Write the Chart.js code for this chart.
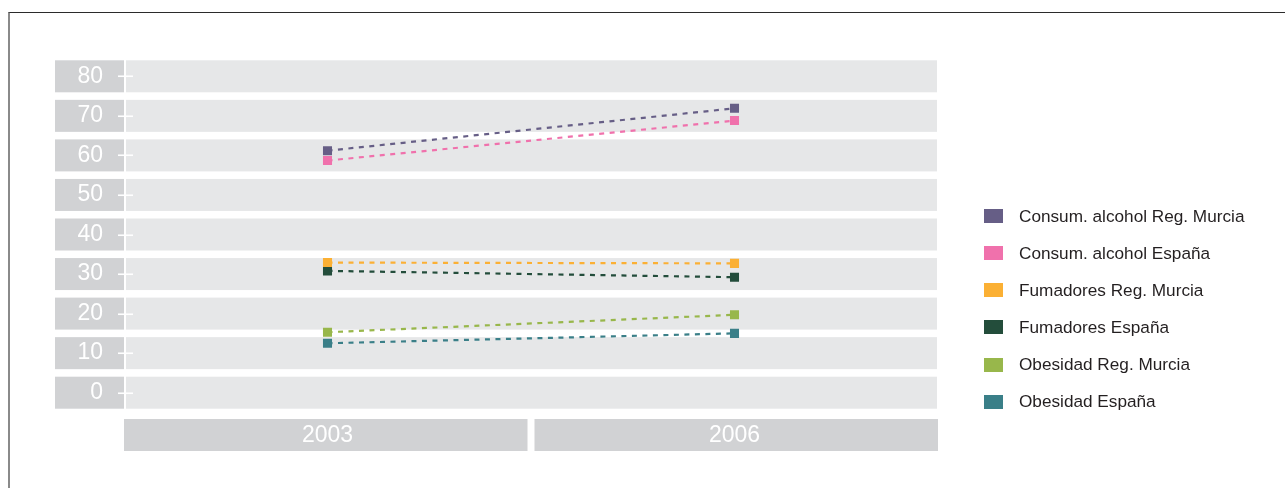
<!DOCTYPE html>
<html>
<head>
<meta charset="utf-8">
<script src="https://cdn.jsdelivr.net/npm/chart.js@4"></script>
<style>
  body { margin: 0; background: #fff; font-family: "Liberation Sans", Arial, sans-serif; }
  #wrap { position: relative; width: 1285px; height: 488px; overflow: hidden; }
  #frame { position: absolute; left: 8px; top: 12px; width: 1280px; height: 480px;
           border-top: 1.5px solid #2b2b2b; border-left: 2px solid #8a8a8a; }
  canvas { position: absolute; left: 0; top: 0; }
  #legend { position: absolute; left: 984px; top: 197.5px; }
  .item { height: 37.15px; display: flex; align-items: center; font-size: 17.2px; color: #231f20; }
  .sw { width: 19px; height: 14px; margin-right: 16px; }
</style>
</head>
<body>
<div id="wrap">
  <div id="frame"></div>
  <canvas id="chart" width="1285" height="488"></canvas>
  <div id="legend"></div>
</div>
<script>
let years = ["2003", "2006"];
let seriesNames = [
    "Consum. alcohol Reg. Murcia",
    "Consum. alcohol España",
    "Fumadores Reg. Murcia",
    "Fumadores España",
    "Obesidad Reg. Murcia",
    "Obesidad España"
];
let alcoholMurcia = [61.2, 71.9];
let alcoholEspana = [58.7, 68.8];
let fumadoresMurcia = [32.9, 32.7];
let fumadoresEspana = [30.8, 29.2];
let obesidadMurcia = [15.3, 19.7];
let obesidadEspana = [12.5, 15.0];
let seriesColors = ["#665e86", "#f071ac", "#fbb034", "#234d3b", "#98b74b", "#3a7f88"];

let allValues = [alcoholMurcia, alcoholEspana, fumadoresMurcia, fumadoresEspana, obesidadMurcia, obesidadEspana];

// fondo: bandas grises por cada tick y cajas de las categorías
const bandPlugin = {
    id: 'bands',
    beforeDraw(chart) {
        let ctx = chart.ctx;
        let area = chart.chartArea;
        let yScale = chart.scales.y;
        ctx.save();
        yScale.ticks.forEach(function(t) {
            let py = yScale.getPixelForValue(t.value);
            ctx.fillStyle = '#e6e7e8';
            ctx.fillRect(area.left + 2, py - 16, area.right - area.left - 3, 32);
            ctx.fillStyle = '#d1d2d4';
            ctx.fillRect(55, py - 16, area.left - 55, 32);
        });
        let n = years.length;
        let w = (area.right - area.left) / n;
        for (let i = 0; i < n; i++) {
            let x0 = area.left + i * w + (i > 0 ? 3.5 : 0);
            let x1 = area.left + (i + 1) * w - (i < n - 1 ? 3.5 : 0);
            ctx.fillStyle = '#d1d2d4';
            ctx.fillRect(x0, 419, x1 - x0, 32);
        }
        // marcas de tick blancas
        ctx.strokeStyle = '#ffffff';
        ctx.lineWidth = 1.6;
        yScale.ticks.forEach(function(t) {
            let py = Math.round(yScale.getPixelForValue(t.value)) + 0.25;
            ctx.beginPath();
            ctx.moveTo(area.left - 6, py);
            ctx.lineTo(area.left + 9, py);
            ctx.stroke();
        });
        ctx.restore();
    }
};

let datasets = allValues.map(function(vals, i) {
    return {
        label: seriesNames[i],
        data: vals,
        borderColor: seriesColors[i],
        backgroundColor: seriesColors[i],
        borderWidth: 2.2,
        borderDash: [5, 5.5],
        pointStyle: 'rect',
        pointRadius: 6.4,
        pointBorderWidth: 0,
        fill: false,
        tension: 0
    };
});

let ctx = document.getElementById('chart').getContext('2d');
let chart = new Chart(ctx, {
    type: 'line',
    data: { labels: years, datasets: datasets },
    options: {
        responsive: false,
        animation: false,
        layout: { padding: { left: 55, top: 76.3, right: 347, bottom: 35.3 } },
        plugins: { legend: { display: false }, tooltip: { enabled: false } },
        scales: {
            x: {
                offset: true,
                grid: { display: false, drawTicks: false },
                border: { display: false },
                ticks: { color: '#ffffff', font: { family: 'Liberation Sans', size: 23 }, padding: 29 },
                afterFit: function(scale) { scale.height = 60; }
            },
            y: {
                min: 0,
                max: 80,
                grid: { display: false, drawTicks: false },
                border: { display: false },
                ticks: { stepSize: 10, color: '#ffffff', font: { family: 'Liberation Sans', size: 23 }, padding: 21 },
                afterFit: function(scale) { scale.width = 69; }
            }
        }
    },
    plugins: [bandPlugin]
});

// leyenda en HTML a partir de los mismos datos
let legendDiv = document.getElementById('legend');
seriesNames.forEach(function(name, i) {
    let row = document.createElement('div');
    row.className = 'item';
    row.innerHTML = '<span class="sw" style="background:' + seriesColors[i] + '"></span>' + name;
    legendDiv.appendChild(row);
});
</script>
</body>
</html>
